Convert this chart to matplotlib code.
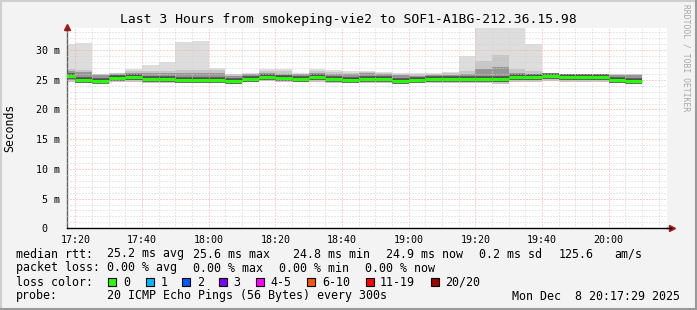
import matplotlib

matplotlib.use("Agg")

import matplotlib.dates as mdates
import matplotlib.pyplot as plt
import numpy as np
import pandas as pd
from matplotlib.lines import Line2D
from matplotlib.patches import Rectangle
from matplotlib.ticker import FixedLocator, FuncFormatter

W, H = 697, 310
MONO = "DejaVu Sans Mono"

title = "Last 3 Hours from smokeping-vie2 to SOF1-A1BG-212.36.15.98"

# 5-minute bins, 17:15 .. 20:05
bin_start = pd.date_range("2025-12-08 17:15", periods=35, freq="5min")
view_start = pd.Timestamp("2025-12-08 17:17:29")
view_end = pd.Timestamp("2025-12-08 20:17:29")

# rtt values in ms
rtt_median = [25.6, 25.0, 24.8, 25.35, 25.5, 25.15, 25.15, 25.0, 25.0, 25.0,
              24.8, 25.1, 25.5, 25.3, 25.2, 25.45, 25.15, 24.95, 25.15, 25.15,
              24.85, 25.0, 25.15, 25.15, 25.15, 25.15, 25.15, 25.4, 25.4, 25.6,
              25.4, 25.4, 25.4, 25.0, 24.75]
rtt_max = [31.1, 31.25, 26.0, 26.2, 26.85, 27.5, 28.0, 31.4, 31.6, 27.0,
           26.0, 26.1, 26.9, 26.9, 26.2, 26.9, 26.7, 26.4, 26.5, 26.35,
           26.2, 26.1, 26.2, 26.3, 29.05, 36.0, 36.0, 36.0, 31.0, 26.0,
           25.9, 25.9, 25.9, 25.9, 25.9]
rtt_p90 = [26.8, 26.6, 25.9, 26.1, 26.5, 26.4, 26.5, 26.6, 26.6, 26.6,
           25.9, 26.0, 26.5, 26.5, 26.0, 26.5, 26.3, 26.1, 26.3, 26.1,
           26.0, 25.9, 26.0, 26.1, 26.5, 28.2, 29.2, 26.9, 26.4, 26.0,
           25.9, 25.9, 25.9, 25.9, 25.9]
rtt_p75 = [26.4, 26.3, 25.8, 26.0, 26.2, 26.1, 26.1, 26.1, 26.1, 26.2,
           25.7, 25.9, 26.1, 26.0, 25.9, 26.1, 26.0, 25.9, 26.1, 25.9,
           25.8, 25.7, 25.8, 25.8, 26.0, 26.9, 27.1, 26.2, 26.0, 26.0,
           25.9, 25.9, 25.9, 25.8, 25.8]
rtt_p25 = [25.0, 24.7, 24.6, 24.9, 25.0, 24.8, 24.8, 24.7, 24.7, 24.7,
           24.5, 24.8, 25.1, 24.9, 24.9, 25.0, 24.8, 24.6, 24.8, 24.8,
           24.6, 24.7, 24.8, 24.8, 24.8, 24.8, 24.6, 24.9, 24.9, 25.1,
           25.0, 25.0, 25.0, 24.7, 24.5]
rtt_min = [24.7, 24.5, 24.4, 24.6, 24.7, 24.5, 24.5, 24.4, 24.4, 24.4,
           24.3, 24.6, 24.8, 24.6, 24.6, 24.7, 24.5, 24.4, 24.5, 24.5,
           24.3, 24.4, 24.5, 24.5, 24.4, 24.4, 24.3, 24.6, 24.6, 24.8,
           24.7, 24.7, 24.7, 24.4, 24.3]

y_ticks = [0, 5, 10, 15, 20, 25, 30]
y_max = 33.67

loss_labels = ["0", "1", "2", "3", "4-5", "6-10", "11-19", "20/20"]
loss_colors = ["#26ff00", "#00b8ff", "#0059ff", "#7e00ff", "#ff00ff",
               "#ff5500", "#ff0000", "#a00000"]

stats_rtt = ["25.2 ms avg", "25.6 ms max", "24.8 ms min", "24.9 ms now",
             "0.2 ms sd", "125.6", "am/s"]
stats_loss = ["0.00 % avg", "0.00 % max", "0.00 % min", "0.00 % now"]
probe_text = "20 ICMP Echo Pings (56 Bytes) every 300s"
stamp_text = "Mon Dec  8 20:17:29 2025"


def fx(px):
    return px / W


def fy(py):
    return 1 - py / H


def steps(values):
    """Repeat the last value so fill_between(step='post') covers the last bin."""
    return np.append(values, values[-1])


def main():
    fig = plt.figure(figsize=(W / 100, H / 100), dpi=100, facecolor="#f3f3f3")
    ax = fig.add_axes([fx(67), fy(228.3), fx(600), 200 / H])
    ax.set_facecolor("white")

    edges = mdates.date2num(list(bin_start) + [bin_start[-1] + pd.Timedelta("5min")])
    starts, ends = edges[:-1], edges[1:]

    # smoke, light to dark
    ax.fill_between(edges, steps(rtt_min), steps(rtt_max),
                    step="post", color="#dddddd", lw=0, zorder=1)
    ax.fill_between(edges, steps(rtt_min), steps(rtt_p90),
                    step="post", color="#c6c6c6", lw=0, zorder=1.1)
    ax.fill_between(edges, steps(rtt_p25), steps(rtt_p75),
                    step="post", color="#969696", lw=0, zorder=1.2)
    ax.hlines(rtt_median, starts, ends, color="#505050", lw=4.0, zorder=1.3)

    # grid
    ax.set_xlim(mdates.date2num(view_start), mdates.date2num(view_end))
    ax.set_ylim(0, y_max)
    ax.xaxis.set_major_locator(mdates.MinuteLocator(byminute=[0, 20, 40]))
    ax.xaxis.set_minor_locator(mdates.MinuteLocator(byminute=range(0, 60, 5)))
    ax.xaxis.set_major_formatter(mdates.DateFormatter("%H:%M"))
    ax.yaxis.set_major_locator(FixedLocator(y_ticks))
    ax.yaxis.set_minor_locator(FixedLocator(np.arange(0, y_max, 1)))
    ax.yaxis.set_major_formatter(
        FuncFormatter(lambda v, p: "0  " if v == 0 else f"{v:.0f} m"))
    ax.grid(which="minor", color="#d2d2d2", lw=0.72, ls=(0, (1, 2)), zorder=2)
    ax.grid(which="major", color="#f2a8a8", lw=0.72, ls=(0, (1, 2)), zorder=2.1)
    ax.set_axisbelow(False)

    # median line in loss colour
    ax.hlines(rtt_median, starts, ends, color=loss_colors[0], lw=2.2, zorder=3)

    for side in ["top", "right"]:
        ax.spines[side].set_visible(False)
    ax.spines["left"].set_color("#606060")
    ax.spines["bottom"].set_color("black")
    ax.spines["left"].set_linewidth(1.0)
    ax.spines["bottom"].set_linewidth(1.0)
    ax.tick_params(which="both", length=0)
    ax.tick_params(axis="x", pad=4.5, labelsize=7.2, colors="black")
    ax.tick_params(axis="y", pad=5, labelsize=7.2, colors="black")
    for lbl in ax.get_xticklabels() + ax.get_yticklabels():
        lbl.set_family(MONO)

    # axis arrows
    ax.plot([0], [1.005], marker="^", ms=5, color="#a01818", clip_on=False,
            transform=ax.transAxes, zorder=5)
    ax.plot([1.008], [0], marker=">", ms=5, color="#a01818", clip_on=False,
            transform=ax.transAxes, zorder=5)
    fig.add_artist(Line2D([fx(667), fx(671)], [fy(228.3)] * 2, color="black",
                          lw=1.0))

    # title and side texts
    fig.text(fx(348), fy(19), title, family=MONO, fontsize=9.4,
             ha="center", va="center")
    fig.text(fx(10), fy(128), "Seconds", family=MONO, fontsize=8.3,
             rotation=90, ha="center", va="center")
    fig.text(fx(686), fy(58), "RRDTOOL / TOBI OETIKER", family=MONO,
             fontsize=5.8, color="#a8a8a8", rotation=270,
             ha="center", va="center")

    # legend block
    fs = 8.4
    row_y = [254, 268, 282, 296]
    fig.text(fx(16), fy(row_y[0]), "median rtt:", family=MONO, fontsize=fs,
             va="center")
    for x, s in zip([107.3, 193.3, 293.3, 386, 479.3, 558.3, 614.3], stats_rtt):
        fig.text(fx(x), fy(row_y[0]), s, family=MONO, fontsize=fs, va="center")

    fig.text(fx(16), fy(row_y[1]), "packet loss:", family=MONO, fontsize=fs,
             va="center")
    for x, s in zip([107.3, 193.3, 279.3, 365], stats_loss):
        fig.text(fx(x), fy(row_y[1]), s, family=MONO, fontsize=fs, va="center")

    fig.text(fx(16), fy(row_y[2]), "loss color:", family=MONO, fontsize=fs,
             va="center")
    box_x = [108.3, 145.7, 182.3, 219, 255.7, 307.3, 365.5, 431]
    for x, lab, col in zip(box_x, loss_labels, loss_colors):
        fig.add_artist(Rectangle((fx(x), fy(row_y[2] + 4)), fx(8), 8 / H,
                                 facecolor=col, edgecolor="black", lw=0.8))
        fig.text(fx(x + 14.5), fy(row_y[2]), lab, family=MONO, fontsize=fs,
                 va="center")

    fig.text(fx(16), fy(row_y[3]), "probe:", family=MONO, fontsize=fs,
             va="center")
    fig.text(fx(107.3), fy(row_y[3]), probe_text, family=MONO, fontsize=fs,
             va="center")
    fig.text(fx(680), fy(row_y[3]), stamp_text, family=MONO, fontsize=fs,
             va="center", ha="right")

    # outer frame
    fig.add_artist(Line2D([0, 1], [fy(1), fy(1)], color="#cfcfcf", lw=1.5))
    fig.add_artist(Line2D([fx(1), fx(1)], [0, 1], color="#cfcfcf", lw=1.5))
    fig.add_artist(Line2D([0, 1], [fy(309), fy(309)], color="#9a9a9a", lw=1.5))
    fig.add_artist(Line2D([fx(696), fx(696)], [0, 1], color="#9a9a9a", lw=1.5))

    fig.savefig("out.png", dpi=100, facecolor=fig.get_facecolor())


if __name__ == "__main__":
    main()
